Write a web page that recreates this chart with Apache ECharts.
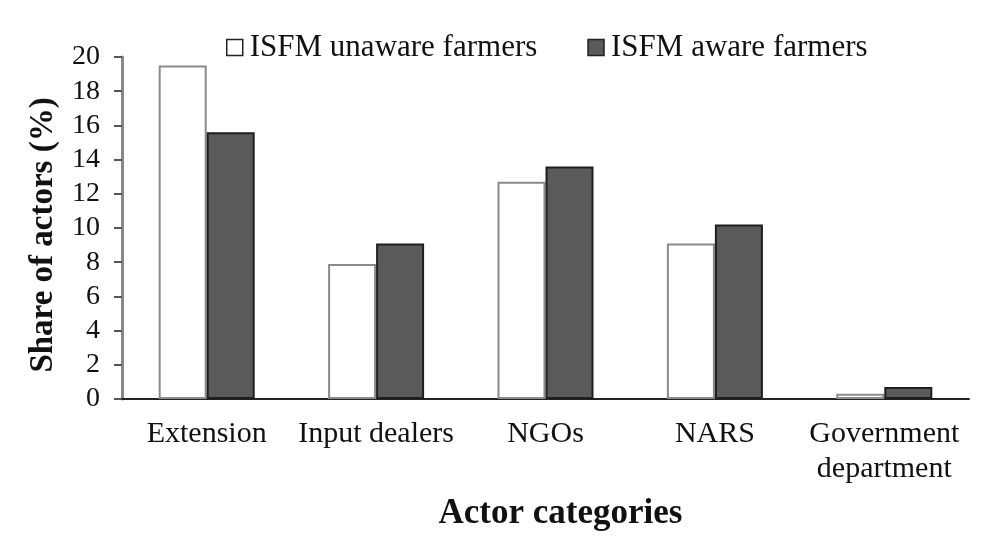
<!DOCTYPE html>
<html>
<head>
<meta charset="utf-8">
<script src="https://cdn.jsdelivr.net/npm/echarts@6/dist/echarts.min.js"></script>
<style>
html,body{margin:0;padding:0;background:#fff;}
#chart{width:996px;height:550px;}
</style>
</head>
<body>
<div id="chart"></div>
<script>
var categories = ['Extension', 'Input dealers', 'NGOs', 'NARS', 'Government\ndepartment'];
var unawareValues = [19.5, 7.9, 12.7, 9.1, 0.3];
var awareValues = [15.6, 9.1, 13.6, 10.2, 0.7];
var yTicks = [0, 2, 4, 6, 8, 10, 12, 14, 16, 18, 20];
var seriesNames = ['ISFM unaware farmers', 'ISFM aware farmers'];

var font = 'Liberation Serif';
var chart = echarts.init(document.getElementById('chart'), null, {renderer: 'canvas'});
chart.setOption({
  backgroundColor: '#ffffff',
  animation: false,
  textStyle: {fontFamily: font, color: '#111'},
  legend: {
    left: 226, top: 32, padding: 0,
    itemWidth: 16, itemHeight: 16, itemGap: 50,
    textStyle: {fontFamily: font, fontSize: 31, color: '#111', padding: [0, 0, 0, 2]},
    data: [
      {name: seriesNames[0], icon: 'rect', itemStyle: {color: '#fff', borderColor: '#222', borderWidth: 1.5}},
      {name: seriesNames[1], icon: 'rect', itemStyle: {color: '#5a5a5a', borderColor: '#222', borderWidth: 1.5}}
    ]
  },
  grid: {left: 122, right: 27, top: 57, bottom: 151},
  xAxis: {
    type: 'category',
    data: categories,
    name: 'Actor categories',
    nameLocation: 'middle',
    nameGap: 97,
    nameTextStyle: {fontFamily: font, fontSize: 35, fontWeight: 'bold', color: '#111', padding: [0, 0, 0, 30]},
    axisLine: {lineStyle: {color: '#222', width: 2}},
    axisTick: {length: 9, lineStyle: {color: '#333', width: 2}},
    axisLabel: {fontFamily: font, fontSize: 30, color: '#111', margin: 18, lineHeight: 35, interval: 0}
  },
  yAxis: {
    type: 'value',
    min: yTicks[0], max: yTicks[yTicks.length - 1], interval: 2,
    name: 'Share of actors (%)',
    nameLocation: 'middle',
    nameGap: 62,
    nameTextStyle: {fontFamily: font, fontSize: 33, fontWeight: 'bold', color: '#111', padding: [0, 14, 0, 0]},
    splitLine: {show: false},
    axisLine: {show: true, lineStyle: {color: '#888', width: 3}},
    axisTick: {show: true, length: 8, lineStyle: {color: '#555', width: 2}},
    axisLabel: {fontFamily: font, fontSize: 28, color: '#111', margin: 22}
  },
  series: [
    {
      name: seriesNames[0], type: 'bar', data: unawareValues,
      barWidth: 48, barGap: '0%',
      itemStyle: {color: '#ffffff', borderColor: '#8a8a8a', borderWidth: 2}
    },
    {
      name: seriesNames[1], type: 'bar', data: awareValues,
      barWidth: 48, barGap: '0%',
      itemStyle: {color: '#5a5a5a', borderColor: '#1e1e1e', borderWidth: 2}
    }
  ]
});
</script>
</body>
</html>
